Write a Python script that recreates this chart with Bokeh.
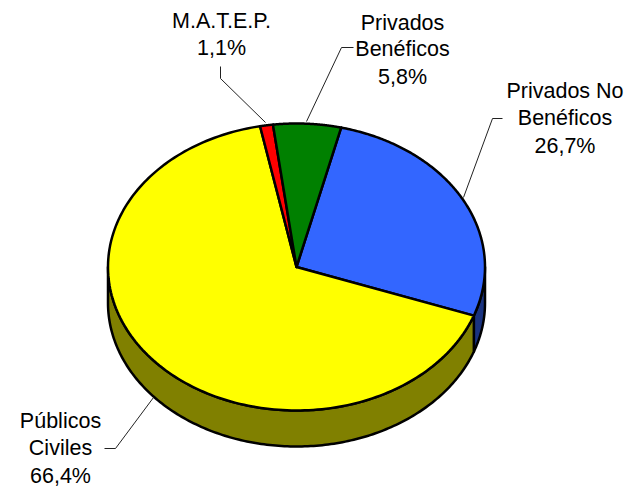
import numpy as np
from bokeh.plotting import figure
from bokeh.models import Range1d
from bokeh.core.properties import value
from bokeh.embed import file_html
from bokeh.resources import INLINE

# data, clockwise from the green/blue boundary
names = ["Privados No Beneficos", "Publicos Civiles", "M.A.T.E.P.", "Privados Beneficos"]
shares = [26.7, 66.4, 1.1, 5.8]
top_colors = ["#3366FF", "#FFFF00", "#FF0000", "#008000"]
side_colors = ["#1A3380", "#808000", "#800000", "#004000"]

label_lines = [
    ["Privados No", "Benéficos", "26,7%"],
    ["Públicos", "Civiles", "66,4%"],
    ["M.A.T.E.P.", "1,1%"],
    ["Privados", "Benéficos", "5,8%"],
]
label_x = [564.5, 60, 221, 402]
label_y = [[90, 117, 145], [420, 447, 475], [20, 47], [22, 48, 76]]

leader_x = [[463, 492, 502], [153, 115, 104], [265, 220, 220], [306, 341, 353]]
leader_y = [[197, 118, 118], [397, 448, 448], [122, 78, 66], [121, 47, 47]]

CX, CY, RX, RY, DEPTH = 296, 266.5, 188.5, 143.5, 36
START = 13.7  # degrees clockwise from the top

p = figure(width=627, height=489, output_backend="svg", toolbar_location=None,
           x_range=Range1d(0, 627), y_range=Range1d(489, 0),
           min_border=0, outline_line_color=None)
p.axis.visible = False
p.grid.visible = False


def arc(a0, a1):
    t = np.radians(np.linspace(a0, a1, 181))
    return CX + RX * np.sin(t), CY - RY * np.cos(t)


edges = START + np.cumsum([0] + shares) * 3.6

# side wall: only the front half (90..270 degrees) shows
sx, sy, sc = [], [], []
for i in range(len(shares)):
    a0, a1 = max(edges[i], 90), min(edges[i + 1], 270)
    if a1 <= a0:
        continue
    x, y = arc(a0, a1)
    sx.append(np.concatenate([x, x[::-1]]))
    sy.append(np.concatenate([y, y[::-1] + DEPTH]))
    sc.append(side_colors[i])
p.patches(sx, sy, fill_color=sc, line_color="black", line_width=2.5, line_join="round")

# top face
tx, ty = [], []
for i in range(len(shares)):
    x, y = arc(edges[i], edges[i + 1])
    tx.append(np.concatenate([[CX], x]))
    ty.append(np.concatenate([[CY], y]))
p.patches(tx, ty, fill_color=top_colors, line_color="black", line_width=2.5, line_join="round")

# leaders
p.multi_line(leader_x, leader_y, line_color="#222222", line_width=1)

# labels
for lines, lx, lys in zip(label_lines, label_x, label_y):
    p.text([lx] * len(lines), lys, text=lines, text_font=value("Liberation Sans"),
           text_font_size="21.5px", text_color="black", text_align="center",
           text_baseline="middle")

open("out.html", "w").write(file_html(p, INLINE))
